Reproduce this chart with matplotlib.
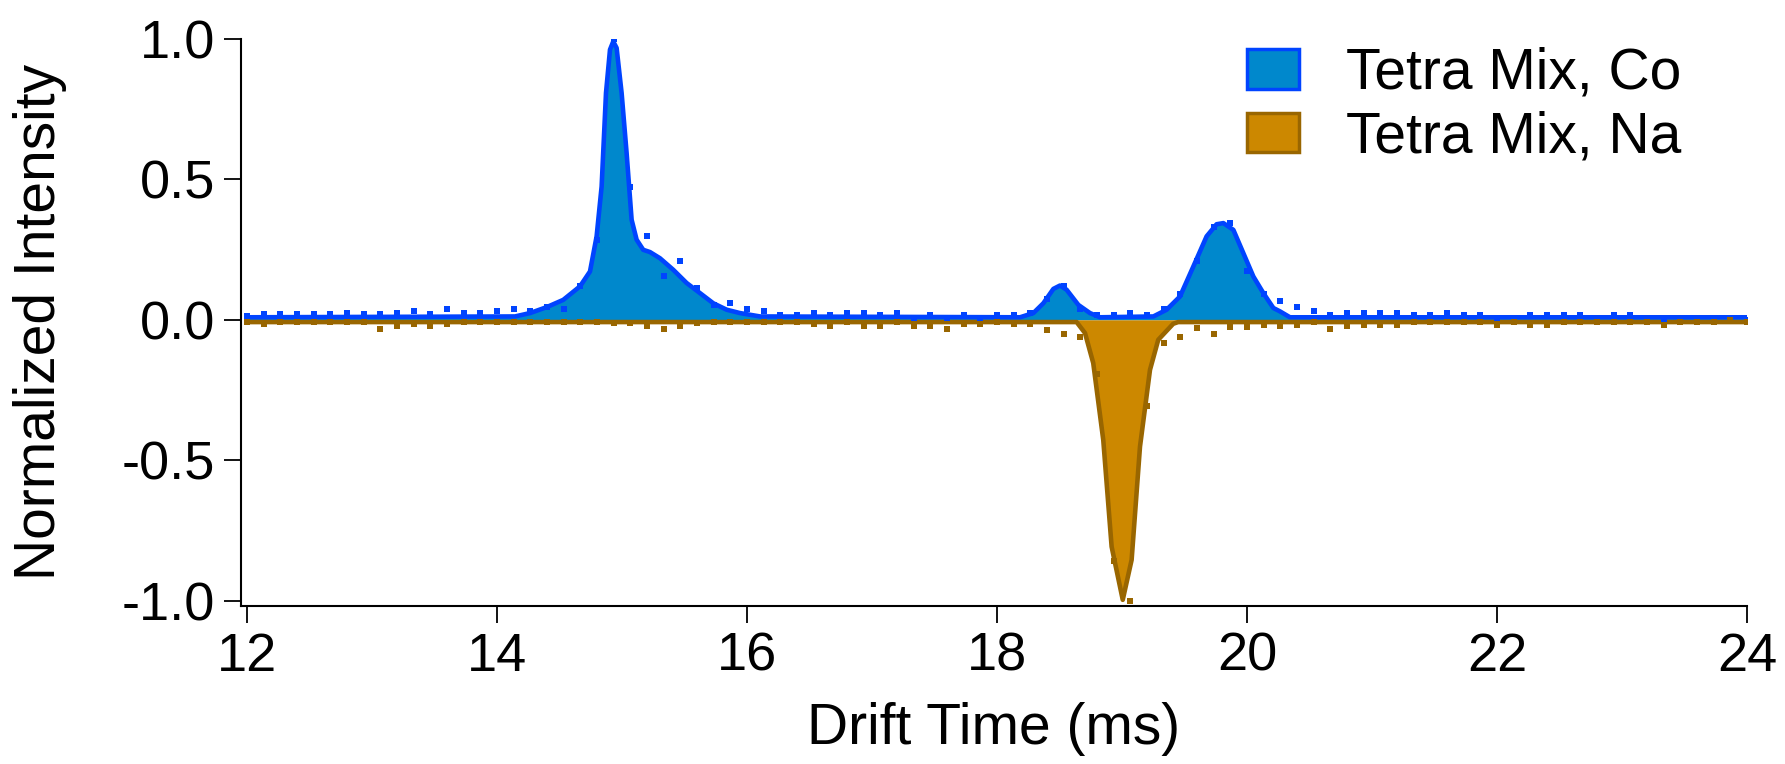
import numpy as np
import matplotlib
matplotlib.use('Agg')
import matplotlib.pyplot as plt
from matplotlib.patches import Patch

matplotlib.rcParams['axes.unicode_minus'] = False
matplotlib.rcParams['font.family'] = ['Liberation Sans', 'DejaVu Sans']

# 漂移时间 (ms)，采样间隔约 0.133 ms
drift_time = np.linspace(12.0, 24.0, 91)

# 原始数据点 (Co)
co_points = [0.015, 0.02, 0.02, 0.02, 0.02, 0.02, 0.026, 0.02, 0.02, 0.026,
             0.033, 0.02, 0.04, 0.026, 0.026, 0.033, 0.04, 0.033, 0.047, 0.04,
             0.121, 0.285, 1.0, 0.472, 0.299, 0.157, 0.21, 0.114, 0.053, 0.06,
             0.039, 0.032, 0.017, 0.017, 0.025, 0.017, 0.025, 0.025, 0.017, 0.025,
             0.007, 0.017, 0.007, 0.017, 0.007, 0.017, 0.017, 0.026, 0.074, 0.121,
             0.039, 0.018, 0.018, 0.024, 0.018, 0.039, 0.091, 0.21, 0.33, 0.344,
             0.174, 0.091, 0.067, 0.046, 0.031, 0.017, 0.025, 0.025, 0.025, 0.025,
             0.017, 0.017, 0.025, 0.017, 0.017, 0.007, 0.007, 0.017, 0.017, 0.017,
             0.017, 0.007, 0.017, 0.017, 0.007, 0.001, 0.001, 0.001, 0.007, 0.007,
             0.001]

# 原始数据点 (Na)，取负值显示
na_points = [-0.007, -0.015, -0.007, -0.007, -0.007, -0.007, -0.007, -0.007, -0.031, -0.022,
             -0.015, -0.022, -0.015, -0.007, -0.007, -0.007, -0.007, -0.007, -0.007, -0.007,
             -0.007, -0.007, -0.013, -0.013, -0.022, -0.031, -0.022, -0.013, -0.007, -0.007,
             -0.007, -0.007, -0.007, -0.007, -0.015, -0.023, -0.007, -0.023, -0.023, -0.007,
             -0.023, -0.023, -0.031, -0.015, -0.015, -0.007, -0.015, -0.015, -0.036, -0.051,
             -0.062, -0.192, -0.858, -1.0, -0.308, -0.083, -0.062, -0.030, -0.051, -0.024,
             -0.024, -0.017, -0.022, -0.017, -0.008, -0.031, -0.022, -0.017, -0.017, -0.017,
             -0.008, -0.008, -0.008, -0.008, -0.008, -0.017, -0.008, -0.017, -0.017, -0.008,
             -0.008, -0.008, -0.008, -0.008, -0.008, -0.017, -0.008, -0.008, -0.008, -0.001,
             -0.008]

# 拟合曲线 (Co)
co_fit_x = [12.0, 14.144, 14.264, 14.397, 14.53, 14.664, 14.744, 14.797, 14.837, 14.872,
            14.904, 14.93, 14.957, 14.997, 15.037, 15.077, 15.117, 15.17, 15.224, 15.304,
            15.41, 15.517, 15.624, 15.73, 15.837, 15.944, 16.104, 18.184, 18.291, 18.371,
            18.451, 18.504, 18.557, 18.651, 18.744, 18.824, 19.251, 19.357, 19.464, 19.571,
            19.677, 19.757, 19.811, 19.891, 19.971, 20.051, 20.131, 20.211, 20.264, 20.344,
            24.0]
co_fit_y = [0.009, 0.012, 0.024, 0.045, 0.071, 0.119, 0.172, 0.297, 0.474, 0.807,
            0.961, 0.99, 0.967, 0.807, 0.593, 0.356, 0.285, 0.249, 0.241, 0.219,
            0.178, 0.131, 0.095, 0.059, 0.036, 0.024, 0.012, 0.009, 0.024, 0.059,
            0.110, 0.122, 0.107, 0.053, 0.024, 0.009, 0.012, 0.036, 0.083, 0.19,
            0.297, 0.34, 0.344, 0.32, 0.237, 0.154, 0.095, 0.042, 0.03, 0.009,
            0.009]

# 拟合曲线 (Na)
na_fit_x = [12.0, 18.637, 18.704, 18.77, 18.85, 18.917, 19.006, 19.077, 19.144, 19.224,
            19.29, 19.41, 19.45, 24.0]
na_fit_y = [-0.008, -0.008, -0.047, -0.154, -0.427, -0.807, -0.996, -0.854, -0.451, -0.178,
            -0.071, -0.014, -0.008, -0.008]

labels = ['Tetra Mix, Co', 'Tetra Mix, Na']
fill_colors = ['#0088CC', '#CC8800']
line_colors = ['#0044FF', '#996600']

fig = plt.figure(figsize=(17.85, 7.64), dpi=100)
ax = fig.add_axes([0.13501, 0.20681, 0.8437, 0.74254])

ax.fill_between(co_fit_x, 0, co_fit_y, color=fill_colors[0], linewidth=0, zorder=1)
ax.fill_between(na_fit_x, 0, na_fit_y, color=fill_colors[1], linewidth=0, zorder=1)
ax.plot(co_fit_x, co_fit_y, color=line_colors[0], linewidth=3.3, zorder=2)
ax.plot(na_fit_x, na_fit_y, color=line_colors[1], linewidth=3.3, zorder=3)
ax.plot(drift_time, co_points, 's', color=line_colors[0], markersize=5,
        markeredgewidth=0, zorder=4)
ax.plot(drift_time, na_points, 's', color=line_colors[1], markersize=5,
        markeredgewidth=0, zorder=4)

ax.set_xlim(11.952, 24.0)
ax.set_ylim(-1.018, 1.0)
ax.set_xticks([12, 14, 16, 18, 20, 22, 24])
ax.set_yticks([-1.0, -0.5, 0.0, 0.5, 1.0])
ax.set_yticklabels(['-1.0', '-0.5', '0.0', '0.5', '1.0'])

for s in ['top', 'right']:
    ax.spines[s].set_visible(False)
for s in ['left', 'bottom']:
    ax.spines[s].set_linewidth(1.5)

ax.tick_params(axis='both', direction='out', length=12.5, width=1.3, labelsize=39)
ax.tick_params(axis='x', pad=6)
ax.tick_params(axis='y', pad=6)

ax.set_xlabel('Drift Time (ms)', fontsize=41)
ax.set_ylabel('Normalized Intensity', fontsize=41)
ax.xaxis.set_label_coords(0.5, -0.169)
ax.xaxis.label.set_va('top')
ax.yaxis.set_label_coords(-0.1155, 0.5)

handles = [Patch(facecolor=fill_colors[i], edgecolor=line_colors[i], linewidth=2.5)
           for i in range(2)]
fig.legend(handles, labels, loc='upper left', bbox_to_anchor=(1247 / 1785, 1 - 47 / 764),
           frameon=False, fontsize=41, handlelength=0.91, handleheight=0.69,
           handletextpad=0.82, labelspacing=0.17, borderpad=0, borderaxespad=0)

fig.savefig('out.png', dpi=100)
